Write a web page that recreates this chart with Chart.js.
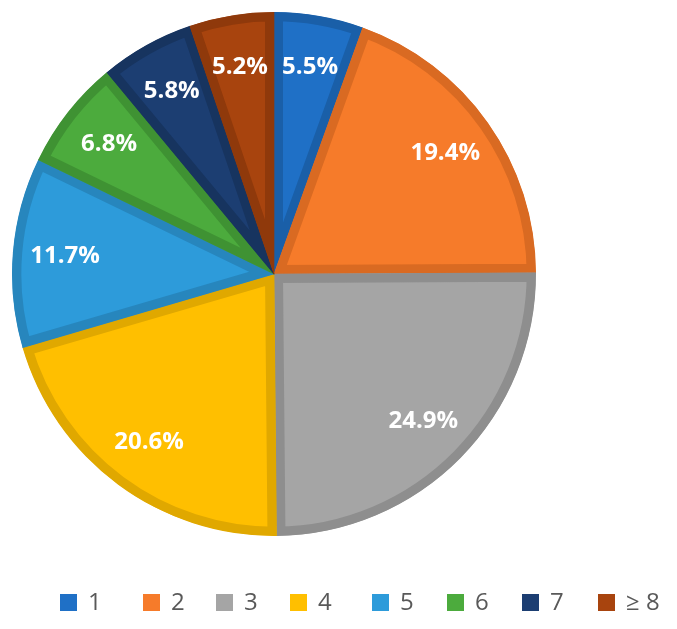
<!DOCTYPE html>
<html>
<head>
<meta charset="utf-8">
<script src="https://cdn.jsdelivr.net/npm/chart.js@4"></script>
<style>
  html, body { margin: 0; padding: 0; background: #fff; }
  #wrap { width: 677px; height: 629px; }
</style>
</head>
<body>
<div id="wrap"><canvas id="pieChart" width="677" height="629"></canvas></div>
<script>
// data
const categories = ["1", "2", "3", "4", "5", "6", "7", "\u2265 8"];
const shares = [5.5, 19.4, 24.9, 20.6, 11.7, 6.8, 5.8, 5.2];
const fillColors = ["#1F70C6", "#F67B2A", "#A5A5A5", "#FFBF00", "#2D9BDA", "#4CAB3D", "#1C3E72", "#A8440E"];
const edgeColors = ["#1A5FA8", "#D96A22", "#8E8E8E", "#E0A800", "#2786BD", "#3F9233", "#17345F", "#8F390B"];

// white percentage labels inside the slices
const sliceLabels = {
  id: 'sliceLabels',
  afterDatasetsDraw(chart) {
    const c = chart.ctx;
    const meta = chart.getDatasetMeta(0);
    c.save();
    c.fillStyle = '#fff';
    c.font = 'bold 24px "Open Sans", "Liberation Sans", sans-serif';
    c.textAlign = 'center';
    c.textBaseline = 'middle';
    meta.data.forEach((arc, i) => {
      const mid = (arc.startAngle + arc.endAngle) / 2;
      const r = arc.outerRadius * 0.8;
      c.fillText(shares[i].toFixed(1) + '%', arc.x + Math.cos(mid) * r, arc.y + Math.sin(mid) * r);
    });
    c.restore();
  }
};

// legend row along the bottom, as in the reference
const bottomLegend = {
  id: 'bottomLegend',
  afterDraw(chart) {
    const c = chart.ctx;
    const xs = [60, 143, 216, 290, 372, 447, 522, 598];
    c.save();
    c.font = '24px "Open Sans", "Liberation Sans", sans-serif';
    c.textBaseline = 'middle';
    categories.forEach((lab, i) => {
      c.fillStyle = fillColors[i];
      c.fillRect(xs[i], 594, 17, 17);
      c.fillStyle = '#595959';
      c.fillText(lab, xs[i] + 28, 603);
    });
    c.restore();
  }
};

new Chart(document.getElementById('pieChart').getContext('2d'), {
  type: 'pie',
  data: {
    labels: categories,
    datasets: [{
      data: shares,
      backgroundColor: fillColors,
      borderColor: edgeColors,
      borderWidth: 9,
      borderAlign: 'inner'
    }]
  },
  options: {
    responsive: false,
    animation: false,
    layout: { padding: { left: 0, right: 129, top: 12, bottom: 93 } },
    plugins: {
      legend: { display: false },
      tooltip: { enabled: false }
    }
  },
  plugins: [sliceLabels, bottomLegend]
});
</script>
</body>
</html>
